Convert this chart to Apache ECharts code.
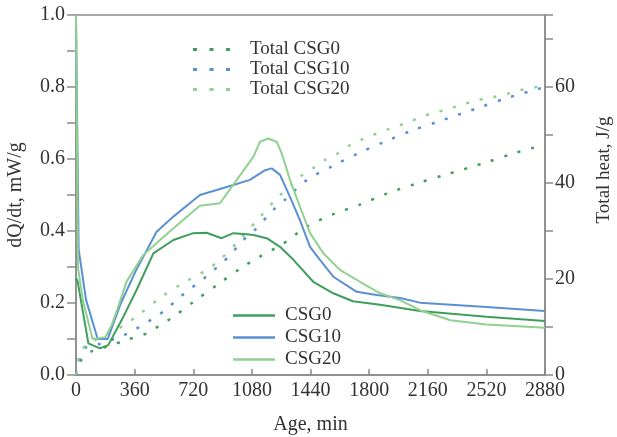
<!DOCTYPE html>
<html><head><meta charset="utf-8">
<script src="https://cdn.jsdelivr.net/npm/echarts@6/dist/echarts.min.js"></script>
<style>html,body{margin:0;padding:0;background:#fff}#c{width:617px;height:437px}</style>
</head><body><div id="c"></div>
<script>
// dQ/dt curves (mW/g)
var csg0Time = [0, 10, 76, 147, 198, 291, 372, 475, 598, 720, 802, 894, 966, 1048, 1089, 1171, 1253, 1335, 1457, 1580, 1700, 1867, 2112, 2520, 2880];
var csg0Rate = [0.27, 0.26, 0.088, 0.074, 0.083, 0.162, 0.236, 0.338, 0.375, 0.394, 0.395, 0.38, 0.394, 0.391, 0.389, 0.38, 0.356, 0.32, 0.259, 0.227, 0.205, 0.195, 0.178, 0.162, 0.15];
var csg10Time = [0, 16, 61, 133, 195, 276, 368, 495, 598, 710, 761, 864, 966, 1068, 1161, 1202, 1253, 1314, 1375, 1437, 1498, 1580, 1724, 1846, 1990, 2112, 2520, 2880];
var csg10Rate = [1.0, 0.35, 0.21, 0.10, 0.10, 0.20, 0.29, 0.398, 0.44, 0.481, 0.50, 0.514, 0.528, 0.542, 0.569, 0.574, 0.556, 0.495, 0.43, 0.356, 0.32, 0.273, 0.231, 0.222, 0.214, 0.201, 0.189, 0.178];
var csg20Time = [0, 12, 41, 102, 180, 220, 256, 311, 413, 516, 618, 720, 761, 884, 987, 1089, 1130, 1181, 1232, 1263, 1314, 1375, 1437, 1519, 1621, 1744, 1867, 1990, 2112, 2300, 2520, 2880];
var csg20Rate = [1.0, 0.30, 0.21, 0.10, 0.105, 0.14, 0.185, 0.26, 0.333, 0.375, 0.415, 0.455, 0.47, 0.477, 0.542, 0.606, 0.648, 0.657, 0.648, 0.616, 0.542, 0.468, 0.394, 0.338, 0.292, 0.259, 0.227, 0.208, 0.18, 0.152, 0.14, 0.131];
// Total heat curves (J/g)
var total0Time = [0, 30, 100, 200, 300, 444, 516, 598, 720, 884, 1028, 1120, 1273, 1416, 1580, 1744, 1908, 2092, 2266, 2520, 2700, 2880];
var total0Heat = [0, 3, 5, 6, 7.2, 8.8, 10.4, 12.1, 15.2, 19.2, 22.6, 24.5, 27.4, 30.9, 33.5, 35.5, 37.8, 39.9, 41.7, 44.3, 46.3, 48];
var total10Time = [0, 30, 66, 150, 240, 321, 393, 475, 547, 618, 690, 761, 833, 895, 956, 1017, 1089, 1212, 1283, 1417, 1580, 1734, 1897, 2061, 2225, 2491, 2655, 2880];
var total10Heat = [0, 4, 5.9, 6.5, 7.6, 8.7, 10.1, 11.8, 13.5, 15.6, 17.7, 19.4, 21.5, 23.3, 25.3, 27.8, 29.9, 34.4, 36.5, 40.6, 43.6, 46.2, 48.6, 50.9, 52.8, 55.9, 57.8, 60];
var total20Time = [0, 30, 100, 200, 300, 383, 526, 650, 802, 884, 1000, 1140, 1242, 1324, 1375, 1457, 1529, 1601, 1683, 1765, 1847, 1928, 2020, 2102, 2184, 2276, 2368, 2450, 2542, 2624, 2706, 2880];
var total20Heat = [0, 5, 7, 8.5, 10.5, 12.5, 16.3, 19, 21.9, 24, 28, 33.3, 37.1, 39.6, 41.3, 43.1, 44.8, 46, 47.9, 49.2, 50.3, 51.3, 52.4, 53.5, 54.5, 55.3, 56.3, 57.1, 57.8, 58.3, 59.2, 60.3];
var totalNames = ['Total CSG0', 'Total CSG10', 'Total CSG20'];
var rateNames = ['CSG0', 'CSG10', 'CSG20'];

function pairs(a, b) { return a.map(function (v, i) { return [v, b[i]]; }); }
var C0 = '#3f9e5c', C10 = '#5b8fd4', C20 = '#8fd18f';
var font = 'Liberation Serif';
var axisColor = '#8a8a8a';
var dotIcon = 'path://M0,0h4v3h-4z M16.5,0h4v3h-4z M33,0h4v3h-4z';
var chart = echarts.init(document.getElementById('c'));
function rateSeries(name, t, v, c) {
  return { name: name, type: 'line', yAxisIndex: 0, data: pairs(t, v), symbol: 'none', lineStyle: { color: c, width: 2 }, itemStyle: { color: c }, z: 3 };
}
function totalSeries(name, t, v, c) {
  return { name: name, type: 'line', yAxisIndex: 1, smooth: 0.3, data: pairs(t, v), symbol: 'none', lineStyle: { color: c, width: 2.5, type: [3, 11] }, itemStyle: { color: c }, z: 2 };
}
function legendData(names, icon) { return names.map(function (n) { return { name: n, icon: icon }; }); }
chart.setOption({
  animation: false,
  grid: { left: 76, right: 72, top: 15, bottom: 62, show: true, borderColor: axisColor, borderWidth: 1.5, outerBoundsMode: 'none', containLabel: false },
  legend: [
    { data: legendData(totalNames, dotIcon), orient: 'vertical', left: 188, top: 35, itemWidth: 37, itemHeight: 3, itemGap: 1,
      textStyle: { fontFamily: font, fontSize: 19, color: '#333', padding: [0, 0, 0, 15] } },
    { data: legendData(rateNames, 'rect'), orient: 'vertical', left: 228, top: 301, itemWidth: 42, itemHeight: 2.5, itemGap: 3,
      textStyle: { fontFamily: font, fontSize: 19, color: '#333', padding: [0, 0, 0, 5] } }
  ],
  xAxis: {
    type: 'value', min: 0, max: 2880, interval: 360,
    name: 'Age, min', nameLocation: 'middle', nameGap: 40,
    nameTextStyle: { fontFamily: font, fontSize: 20, color: '#333' },
    axisLine: { lineStyle: { color: axisColor, width: 1.5 } },
    axisTick: { inside: true, length: 6, lineStyle: { color: axisColor, width: 1.5 } },
    axisLabel: { fontFamily: font, fontSize: 20, color: '#333', margin: 6, formatter: function (v) { return String(v); } },
    splitLine: { show: false }
  },
  yAxis: [
    { type: 'value', min: 0, max: 1.0, interval: 0.1,
      name: 'dQ/dt, mW/g', nameLocation: 'middle', nameGap: 50, nameRotate: 90,
      nameTextStyle: { fontFamily: font, fontSize: 20, color: '#333' },
      axisLine: { show: true, lineStyle: { color: axisColor, width: 1.5 } },
      axisTick: { show: true, length: 9, lineStyle: { color: axisColor, width: 1.5 } },
      axisLabel: { fontFamily: font, fontSize: 20, color: '#333', margin: 11,
        formatter: function (v) { var k = Math.round(v * 10); return k % 2 === 0 ? (k / 10).toFixed(1) : ''; } },
      splitLine: { show: false } },
    { type: 'value', min: 0, max: 75, interval: 10, position: 'right',
      name: 'Total heat, J/g', nameLocation: 'middle', nameGap: 50, nameRotate: 90,
      nameTextStyle: { fontFamily: font, fontSize: 19, color: '#333', padding: [0, 0, 0, 50] },
      axisLine: { show: true, lineStyle: { color: axisColor, width: 1.5 } },
      axisTick: { show: true, length: 8, lineStyle: { color: axisColor, width: 1.5 } },
      axisLabel: { fontFamily: font, fontSize: 20, color: '#333', margin: 10,
        formatter: function (v) { return Math.round(v) % 20 === 0 ? String(Math.round(v)) : ''; } },
      splitLine: { show: false } }
  ],
  series: [
    totalSeries(totalNames[0], total0Time, total0Heat, C0),
    totalSeries(totalNames[1], total10Time, total10Heat, C10),
    totalSeries(totalNames[2], total20Time, total20Heat, C20),
    rateSeries(rateNames[0], csg0Time, csg0Rate, C0),
    rateSeries(rateNames[1], csg10Time, csg10Rate, C10),
    rateSeries(rateNames[2], csg20Time, csg20Rate, C20)
  ]
});
</script></body></html>
